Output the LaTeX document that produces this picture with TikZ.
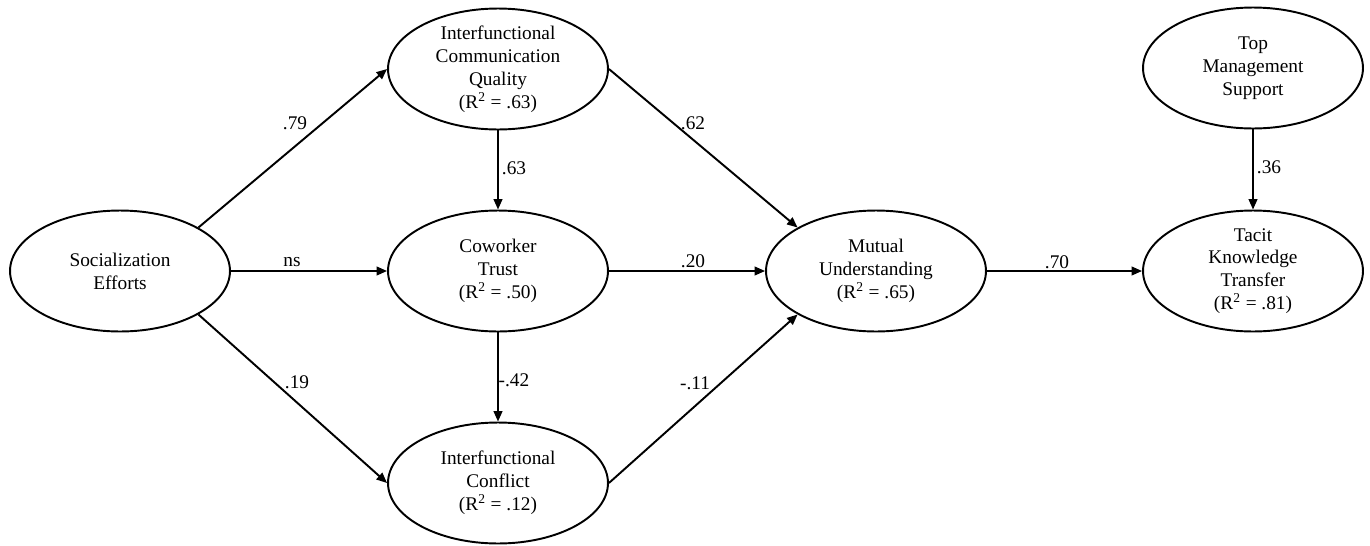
\documentclass[tikz,border=0pt]{standalone}
\usepackage{fontspec}
\setmainfont{Liberation Serif}
\usetikzlibrary{arrows.meta,shapes.geometric}

\begin{document}
\begin{tikzpicture}[x=0.02cm, y=-0.02cm,
  latent/.style={draw, line width=1.1pt, ellipse, minimum width=4.4cm,
    minimum height=2.42cm, inner xsep=0pt, inner ysep=-4pt, align=center,
    font=\fontsize{11}{13}\selectfont},
  path/.style={line width=1.1pt, -{Triangle[length=6pt,width=5pt]}},
  coef/.style={font=\fontsize{11}{13}\selectfont}]
%\draw[step=50,gray,very thin] (0,0) grid (1370,545); %grid lines
\useasboundingbox (0,0) rectangle (1370,545);

\node[latent] (soc) at (120,271) {Socialization\\Efforts};
\node[latent] (icq) at (498,69) {Interfunctional\\Communication\\Quality\\(R\textsuperscript{2} = .63)};
\node[latent] (trust) at (498,271) {Coworker\\Trust\\(R\textsuperscript{2} = .50)};
\node[latent] (conf) at (498,483) {Interfunctional\\Conflict\\(R\textsuperscript{2} = .12)};
\node[latent] (mu) at (876,271) {Mutual\\Understanding\\(R\textsuperscript{2} = .65)};
\node[latent] (tkt) at (1253,271) {Tacit\\Knowledge\\Transfer\\(R\textsuperscript{2} = .81)};
\node[latent] (tms) at (1253,68) {Top\\Management\\Support};

\draw[path] (soc.29) -- (icq.west);
\draw[path] (soc) -- (trust);
\draw[path] (soc.-29) -- (conf.west);
\draw[path] (icq) -- (trust);
\draw[path] (trust) -- (conf);
\draw[path] (icq.east) -- (mu.151);
\draw[path] (trust) -- (mu);
\draw[path] (conf.east) -- (mu.209);
\draw[path] (mu) -- (tkt);
\draw[path] (tms) -- (tkt);

% path coefficients
\node[coef] (c79) at (295,123) {.79};
\node[coef] (cns) at (292,262) {ns};
\node[coef] (c19) at (297,382) {.19};
\node[coef] (c63) at (514,168) {.63};
\node[coef] (c42) at (514,380) {-.42};
\node[coef] (c62) at (693,123) {.62};
\node[coef] (c20) at (693,261) {.20};
\node[coef] (c11) at (695,383) {-.11};
\node[coef] (c70) at (1057,262) {.70};
\node[coef] (c36) at (1269,167) {.36};
\end{tikzpicture}
\end{document}
